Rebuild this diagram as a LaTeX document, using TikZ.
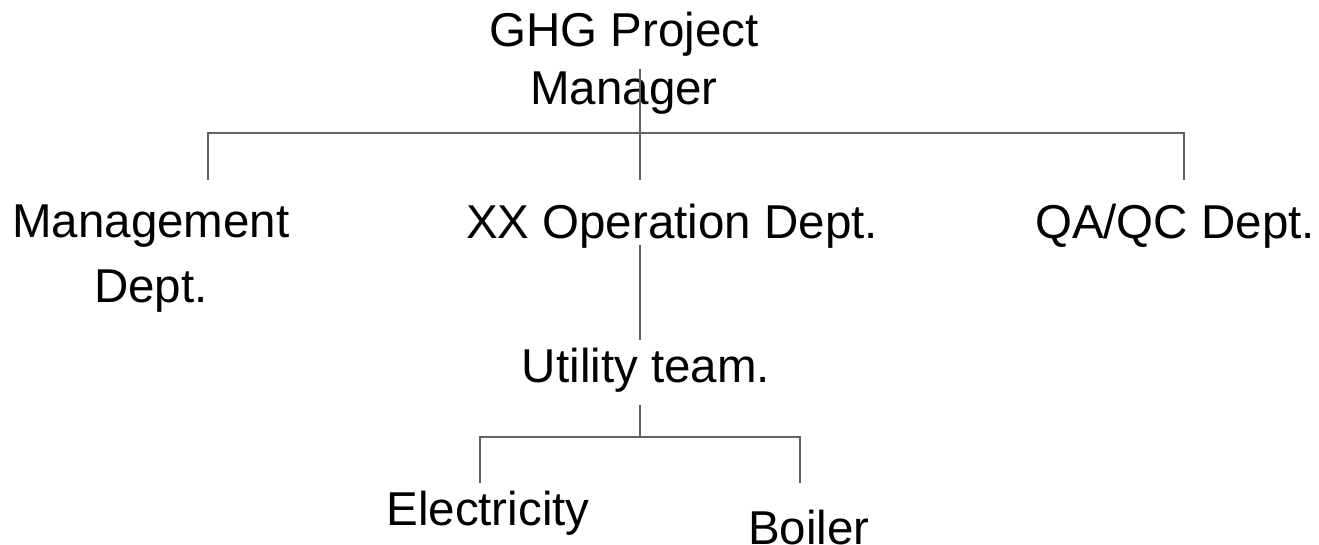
\documentclass[tikz,border=0pt]{standalone}
\usepackage{fontspec}
\setmainfont{Liberation Sans}
\definecolor{linegray}{RGB}{90,100,106}
\begin{document}
\begin{tikzpicture}[x=1pt,y=-1pt,
  lbl/.style={inner sep=0pt,anchor=base,align=center,font=\fontsize{47.5}{58}\selectfont},
  lbltwo/.style={inner sep=0pt,anchor=base,align=center,font=\fontsize{47.5}{65}\selectfont},
  conn/.style={draw=linegray,line width=2.4pt}]
\useasboundingbox (0,0) rectangle (1319,544);
\fill[white] (0,0) rectangle (1319,544);
% nodes (base anchor = baseline of the last line)
\node[lbl] (gm) at (624,104) {GHG Project\\Manager};
\node[lbltwo] (md) at (151,302) {Management\\Dept.};
\node[lbl] (op) at (672,238) {XX Operation Dept.};
\node[lbl] (qa) at (1175,238) {QA/QC Dept.};
\node[lbl] (ut) at (646,382) {Utility team.};
\node[lbl] (el) at (488,525) {Electricity};
\node[lbl] (bo) at (809,544) {Boiler};
% connector points
\coordinate (gmtop) at (640,69);
\coordinate (bus1) at (640,133);
\coordinate (opin) at (640,180);
\coordinate (mdin) at (208,180);
\coordinate (qain) at (1184,180);
\coordinate (opout) at (640,245);
\coordinate (utin) at (640,340);
\coordinate (utout) at (640,405);
\coordinate (bus2) at (640,437);
\coordinate (elin) at (480,483);
\coordinate (boin) at (800,483);
% connectors
\draw[conn] (gmtop) -- (opin);
\draw[conn] (mdin) |- (bus1) -| (qain);
\draw[conn] (opout) -- (utin);
\draw[conn] (utout) -- (bus2);
\draw[conn] (elin) |- (bus2) -| (boin);
\end{tikzpicture}
\end{document}
